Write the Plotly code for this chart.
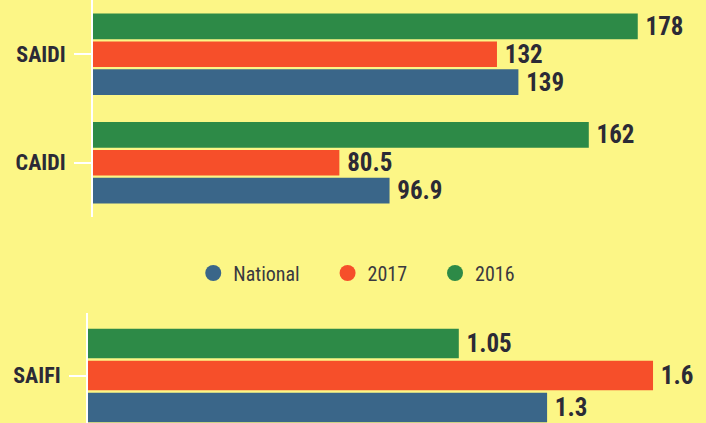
import plotly.graph_objects as go

# ---- data ----
series = ["National", "2017", "2016"]
top_categories = ["SAIDI", "CAIDI"]
top_national = [139, 96.9]
top_2017 = [132, 80.5]
top_2016 = [178, 162]
bottom_categories = ["SAIFI"]
bottom_national = [1.3]
bottom_2017 = [1.6]
bottom_2016 = [1.05]

colors = {"National": "#3A6689", "2017": "#F64F2A", "2016": "#2D8A47"}
BG = "#FCF686"
TXT = "#2B2A36"
FONT = "Roboto Condensed, Liberation Sans Narrow, DejaVu Sans Condensed, Roboto, sans-serif"

fig = go.Figure()

top_vals = {"National": top_national, "2017": top_2017, "2016": top_2016}
bot_vals = {"National": bottom_national, "2017": bottom_2017, "2016": bottom_2016}

for s in series:
    fig.add_trace(go.Bar(
        y=top_categories, x=top_vals[s], orientation="h", name=s,
        marker=dict(color=colors[s], line=dict(width=0)),
        texttemplate="&#8201;%{x}", textposition="outside", cliponaxis=False,
        constraintext="none",
        textfont=dict(family=FONT, size=25, color=TXT, weight="bold"),
        xaxis="x", yaxis="y", showlegend=False, hoverinfo="skip"))
for s in series:
    fig.add_trace(go.Bar(
        y=bottom_categories, x=bot_vals[s], orientation="h", name=s,
        marker=dict(color=colors[s], line=dict(width=0)),
        texttemplate="&#8201;%{x}", textposition="outside", cliponaxis=True,
        constraintext="none",
        textfont=dict(family=FONT, size=25, color=TXT, weight="bold"),
        xaxis="x2", yaxis="y2", showlegend=False, hoverinfo="skip"))
for s in series:
    fig.add_trace(go.Scatter(
        x=[None], y=[None], mode="markers", name=s + "&nbsp;" * 5,
        marker=dict(color=colors[s], size=20, symbol="circle"),
        xaxis="x", yaxis="y", showlegend=True))

W, H = 706, 423
yaxis_common = dict(
    type="category", showline=True, linecolor="white", linewidth=2,
    ticks="outside", ticklen=17, tickwidth=2, tickcolor="white",
    showgrid=False, zeroline=False,
    tickfont=dict(family=FONT, size=22, color=TXT, weight="bold"),
    ticklabelstandoff=4,
)
fig.update_layout(
    width=W, height=H,
    margin=dict(l=0, r=0, t=0, b=0),
    paper_bgcolor=BG, plot_bgcolor=BG,
    barmode="group", bargap=0.23, bargroupgap=0.08,
    xaxis=dict(domain=[93 / W, 1], range=[0, 200.3], visible=False, anchor="y"),
    yaxis=dict(domain=[1 - 217 / H, 1], range=[-0.5, 1.5], anchor="x",
               categoryorder="array", categoryarray=["CAIDI", "SAIDI"], **yaxis_common),
    xaxis2=dict(domain=[88 / W, 1], range=[0, 1.75], visible=False, anchor="y2"),
    yaxis2=dict(domain=[0, 1 - 313 / H], range=[-0.38, 0.5], anchor="x2",
                **yaxis_common),
    legend=dict(orientation="h", x=0.5216, xanchor="center", y=1 - 273 / H, yanchor="middle",
                font=dict(family=FONT, size=20, color="#3A3940"),
                bgcolor="rgba(0,0,0,0)", itemsizing="trace", traceorder="normal"),
    showlegend=True,
)

fig.write_html(
    "out.html",
    config={"displayModeBar": False},
    post_script="document.body.style.margin='0';document.body.style.padding='0';",
)
